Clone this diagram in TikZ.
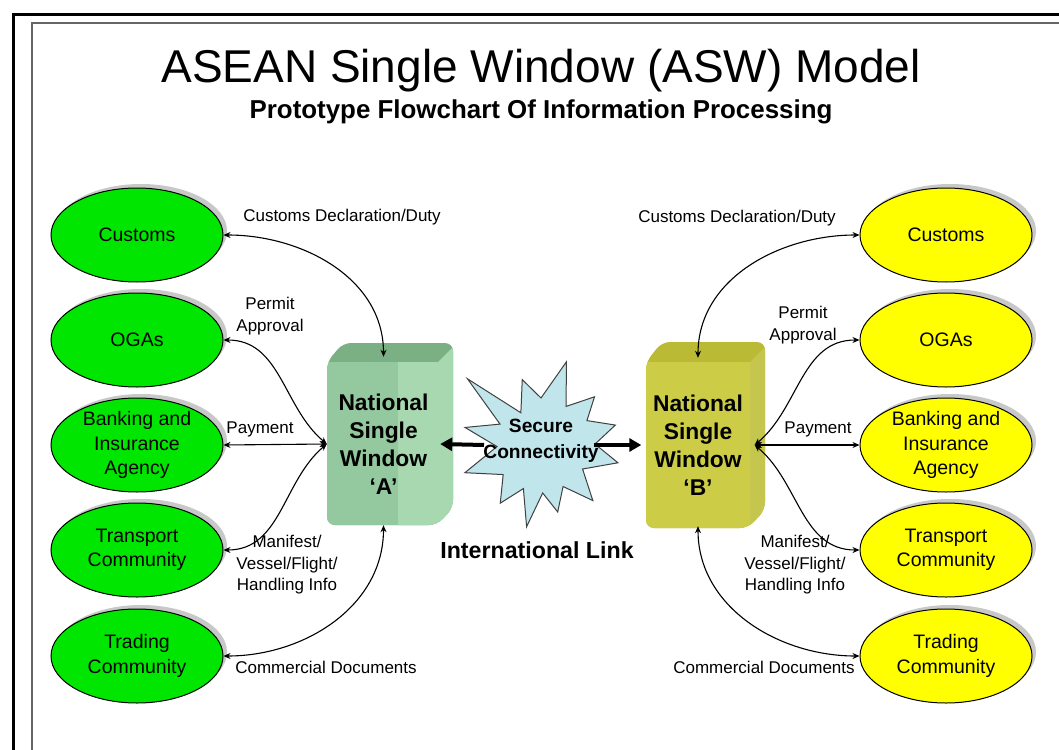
\documentclass[tikz,border=0pt]{standalone}
\usepackage{fontspec}
\setmainfont{Liberation Sans}
\usetikzlibrary{shapes.geometric,arrows.meta,shadows}

\definecolor{agencyA}{RGB}{0,230,0}
\definecolor{agencyB}{RGB}{255,255,0}
\definecolor{boxAtop}{RGB}{122,176,132}
\definecolor{boxAfront}{RGB}{148,200,158}
\definecolor{boxAside}{RGB}{168,216,176}
\definecolor{boxBtop}{RGB}{186,186,52}
\definecolor{boxBfront}{RGB}{204,204,70}
\definecolor{boxBside}{RGB}{196,198,78}
\definecolor{burstfill}{RGB}{192,230,236}

\tikzset{
  agency/.style={ellipse, draw, line width=1pt, minimum width=172pt, minimum height=94pt,
    inner sep=-12pt, align=center, font=\fontsize{19.5}{24.5}\selectfont,
    drop shadow={shadow xshift=4pt, shadow yshift=4pt, fill=black!30, opacity=.7}},
  msg/.style={align=center, inner sep=1pt, font=\fontsize{17}{21.5}\selectfont},
  conn/.style={{Stealth[length=7pt,width=6pt]}-{Stealth[length=7pt,width=6pt]}, line width=1.1pt},
  link/.style={-{Triangle[length=12pt,width=13pt]}, line width=4pt},
  nsw/.style={minimum width=113pt, minimum height=162pt, inner sep=0pt, align=center,
    font=\bfseries\fontsize{22.8}{28}\selectfont},
}

\begin{document}
\begin{tikzpicture}[x=1pt, y=-1pt]
  \useasboundingbox (0,0) rectangle (1059,749);
  \clip (0,0) rectangle (1059,749);
  \fill[white] (0,0) rectangle (1059,749);

  % frames
  \draw[line width=3pt] (13,760) -- (13,15) -- (1070,15);
  \draw[line width=2pt, black!60] (32,760) -- (32,23) -- (1070,23);

  % titles
  \node[font=\fontsize{46}{50}\selectfont] (ttl) at (541,71) {ASEAN Single Window (ASW) Model};
  \node[font=\bfseries\fontsize{25.9}{30}\selectfont] (sub) at (541,112) {Prototype Flowchart Of Information Processing};

  % agencies, country A
  \node[agency, fill=agencyA] (cusA) at (137,235) {Customs};
  \node[agency, fill=agencyA] (ogaA) at (137,340) {OGAs};
  \node[agency, fill=agencyA] (bnkA) at (137,445) {Banking and\\Insurance\\Agency};
  \node[agency, fill=agencyA] (trnA) at (137,550) {Transport\\Community};
  \node[agency, fill=agencyA] (trdA) at (137,656) {Trading\\Community};

  % agencies, country B
  \node[agency, fill=agencyB] (cusB) at (946,235) {Customs};
  \node[agency, fill=agencyB] (ogaB) at (946,340) {OGAs};
  \node[agency, fill=agencyB] (bnkB) at (946,445) {Banking and\\Insurance\\Agency};
  \node[agency, fill=agencyB] (trnB) at (946,550) {Transport\\Community};
  \node[agency, fill=agencyB] (trdB) at (946,656) {Trading\\Community};

  % national single window A
  \begin{scope}
    \clip[rounded corners=8pt] (327,525) -- (327,362) -- (343,343) -- (453,343) -- (453,508) -- (437,525) -- cycle;
    \fill[boxAtop] (320,335) rectangle (460,530);
    \fill[boxAfront] (320,362) rectangle (438,530);
    \fill[boxAside] (398,362) -- (438,362) -- (460,340) -- (460,530) -- (398,530) -- cycle;
  \end{scope}
  \node[nsw] (nswA) at (383.5,444) {National\\Single\\Window\\`A'};

  % national single window B
  \begin{scope}
    \clip[rounded corners=8pt] (646,528) -- (646,362) -- (662,342) -- (765,342) -- (765,510) -- (748,528) -- cycle;
    \fill[boxBtop] (640,335) rectangle (770,535);
    \fill[boxBfront] (640,362) rectangle (750,535);
    \fill[boxBside] (750,362) -- (770,342) -- (770,535) -- (750,535) -- cycle;
  \end{scope}
  \node[nsw] (nswB) at (698,445) {National\\Single\\Window\\`B'};

  % secure connectivity
  \begin{scope}[shift={(541,445)}]
    \filldraw[fill=burstfill, draw=black!75, line width=1pt]
      (167:78pt) -- (153:46pt) -- (138:99pt) -- (122:38pt) -- (106:68pt) -- (90:47pt)
      -- (73:87pt) -- (57:46pt) -- (42:72pt) -- (28:52pt) -- (15:77pt) -- (1:54pt)
      -- (-13:79pt) -- (-30:48pt) -- (-47:76pt) -- (-62:47pt) -- (-76:69pt) -- (-88:48pt)
      -- (-100:83pt) -- (-112:47pt) -- (-125:71pt) -- (-142:48pt) -- (-160:81pt) -- (-178:44pt) -- cycle;
  \end{scope}
  \node[align=center, font=\bfseries\fontsize{19.2}{26}\selectfont] (sc) at (541,441) {Secure\\Connectivity};
  \node[font=\bfseries\fontsize{23.2}{28}\selectfont] (intl) at (537,550) {International Link};

  \coordinate (lkA) at (484,445);
  \coordinate (lkB) at (594,445);
  \draw[link] (lkA) -- (nswA.east);
  \draw[link] (lkB) -- (nswB.west);

  % flows, country A
  \draw[conn] (cusA.east) to[out=0, in=90] ([yshift=6pt]nswA.north);
  \draw[conn] (ogaA.east) to[out=0, in=140] (nswA.west);
  \draw[conn] (bnkA.east) -- (nswA.west);
  \draw[conn] (trnA.east) to[out=0, in=-140] (nswA.west);
  \draw[conn] (trdA.east) to[out=0, in=-90] (nswA.south);

  % flows, country B
  \draw[conn] ([yshift=6pt]nswB.north) to[out=90, in=180] (cusB.west);
  \draw[conn] (nswB.east) to[out=40, in=180] (ogaB.west);
  \draw[conn] (nswB.east) -- (bnkB.west);
  \draw[conn] (nswB.east) to[out=-40, in=180] (trnB.west);
  \draw[conn] (nswB.south) to[out=-90, in=180] (trdB.west);

  % message labels
  \node[msg] (declA) at (342,217) {Customs Declaration/Duty};
  \node[msg] (permA) at (270,316) {Permit\\Approval};
  \node[msg] (payA) at (260,429) {Payment};
  \node[msg] (manA) at (287,565) {Manifest/\\Vessel/Flight/\\Handling Info};
  \node[msg] (docA) at (326,667) {Commercial Documents};

  \node[msg] (declB) at (737,218) {Customs Declaration/Duty};
  \node[msg] (permB) at (803,325) {Permit\\Approval};
  \node[msg] (payB) at (818,429) {Payment};
  \node[msg] (manB) at (795,565) {Manifest/\\Vessel/Flight/\\Handling Info};
  \node[msg] (docB) at (764,667) {Commercial Documents};
\end{tikzpicture}
\end{document}
